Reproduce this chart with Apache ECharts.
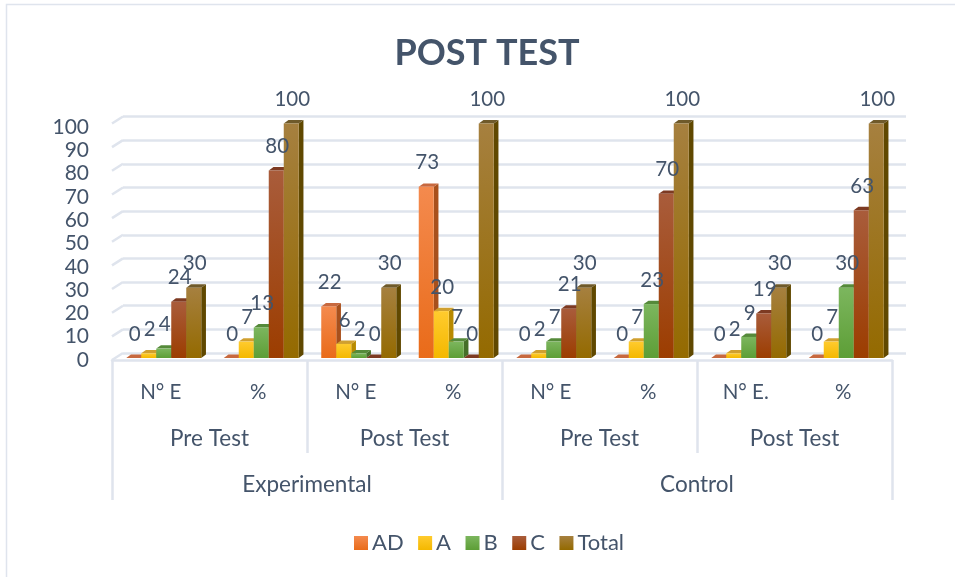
<!DOCTYPE html>
<html><head><meta charset="utf-8">
<script src="https://cdn.jsdelivr.net/npm/echarts@6/dist/echarts.min.js"></script>
<style>html,body{margin:0;padding:0;background:#fff}#c{width:955px;height:577px}</style>
</head><body><div id="c"></div>
<script>
const measures = ['N° E','%','N° E','%','N° E','%','N° E.','%'];
const tests = ['Pre Test','Post Test','Pre Test','Post Test'];
const groups = ['Experimental','Control'];
const valueTicks = [0,10,20,30,40,50,60,70,80,90,100];
const AD = [0,0,22,73,0,0,0,0];
const A = [2,7,6,20,2,7,2,7];
const B = [4,13,2,7,7,23,9,30];
const C = [24,80,0,0,21,70,19,63];
const Total = [30,100,30,100,30,100,30,100];
const seriesNames = ['AD','A','B','C','Total'];
const seriesValues = [AD,A,B,C,Total];
const palette = [
 {light:'#f48a4e',dark:'#e96b19',cap:'#c8693f',side:'#a8501c'},
 {light:'#ffcb2e',dark:'#f4b800',cap:'#d0a030',side:'#b88a00'},
 {light:'#7cb65e',dark:'#5d9e36',cap:'#558a3a',side:'#456f28'},
 {light:'#a95c3b',dark:'#9c3d00',cap:'#7d3a22',side:'#6f2c00'},
 {light:'#a6803f',dark:'#946a00',cap:'#6f5a2a',side:'#604800'}
];
const txt = '#44546a', line = '#dfe4ed', font = 'Lato';
const grad = p => new echarts.graphic.LinearGradient(0,0,0,1,[{offset:0,color:p.light},{offset:1,color:p.dark}]);
const barW = 15, shift = 3, dx = 4.7, dy = 3.4;

const bars = seriesNames.map((name,si)=>({
  name, type:'custom', xAxisIndex:0, yAxisIndex:0, z:5,
  coordinateSystem:'cartesian2d',
  itemStyle:{color:grad(palette[si])},
  data: seriesValues[si].map((v,i)=>[i,v]),
  encode:{x:0,y:1},
  renderItem(params,api){
    const p = palette[si];
    const top = api.coord([api.value(0),api.value(1)]);
    const base = api.coord([api.value(0),0]);
    const x0 = top[0]+shift+(si-2.5)*barW, x1 = x0+barW, yT = top[1], yB = base[1];
    const children = [];
    children.push({type:'polygon',z2:si,shape:{points:[[x1,yB],[x1+dx,yB-dy],[x1+dx,yT-dy],[x1,yT]]},style:{fill:p.side}});
    children.push({type:'polygon',z2:si,shape:{points:[[x0,yT],[x0+dx,yT-dy],[x1+dx,yT-dy],[x1,yT]]},style:{fill:p.cap}});
    if(yB-yT>0.5) children.push({type:'rect',z2:si,shape:{x:x0,y:yT,width:barW,height:yB-yT},style:{fill:grad(p)}});
    children.push({type:'text',z2:100,style:{x:x0+barW/2+1,y:yT-24,text:String(api.value(1)),fill:txt,font:'20.5px '+font,align:'center',verticalAlign:'middle'}});
    return {type:'group',children};
  }
}));

// left-wall diagonal tick connectors, tied to the value axes
const diag = {
  type:'custom', xAxisIndex:1, yAxisIndex:1, silent:true, z:1, legendHoverLink:false,
  data: valueTicks.map(v=>[0,v]),
  renderItem(params,api){
    const back = api.coord([0,api.value(1)]);
    const leftEdge = params.coordSys.x;
    return {type:'line',shape:{x1:leftEdge,y1:back[1],x2:leftEdge-11,y2:back[1]+7},style:{stroke:line,lineWidth:2.5}};
  }
};

const option = {
  animation:false,
  backgroundColor:'#fff',
  textStyle:{fontFamily:font},
  title:{text:'POST TEST',left:482,top:30,textAlign:'center',textStyle:{color:txt,fontFamily:font,fontWeight:'bold',fontSize:36}},
  legend:{data:seriesNames,left:349,top:527,itemWidth:14,itemHeight:14,itemGap:14.5,icon:'rect',
    textStyle:{color:txt,fontFamily:font,fontSize:22,padding:[0,0,0,-1]}},
  grid:[
    {left:112,right:63,top:123.5,height:234.5},
    {left:123,right:49,top:116.5,height:236.5},
    {left:112,right:63,top:127,height:233}
  ],
  xAxis:[
    {gridIndex:0,type:'category',data:measures,axisLine:{show:false},axisTick:{show:false},axisLabel:{show:false}},
    {gridIndex:1,type:'category',data:measures,axisLine:{show:false},axisTick:{show:false},axisLabel:{show:false}},
    {gridIndex:2,type:'category',data:measures,position:'bottom',axisLine:{lineStyle:{color:line,width:2.5}},axisTick:{show:false},
      axisLabel:{margin:22,color:txt,fontFamily:font,fontSize:20.5,interval:0}},
    {gridIndex:2,type:'category',data:tests,position:'bottom',axisLine:{show:false},
      axisTick:{show:true,length:93,alignWithLabel:false,interval:0,lineStyle:{color:line,width:2.5}},
      axisLabel:{margin:67,color:txt,fontFamily:font,fontSize:22.5,interval:0}},
    {gridIndex:2,type:'category',data:groups,position:'bottom',axisLine:{show:false},
      axisTick:{show:true,length:140,interval:0,lineStyle:{color:line,width:2.5}},
      axisLabel:{margin:113,color:txt,fontFamily:font,fontSize:22.5,interval:0}}
  ],
  yAxis:[
    {gridIndex:0,type:'value',min:0,max:100,interval:10,axisLine:{show:false},axisTick:{show:false},axisLabel:{show:false},splitLine:{show:false}},
    {gridIndex:1,type:'value',min:0,max:100,interval:10,axisLine:{show:false},axisTick:{show:false},axisLabel:{show:false},
      splitLine:{show:true,lineStyle:{color:line,width:2.5}}},
    {gridIndex:2,type:'value',min:0,max:100,interval:10,axisLine:{show:false},axisTick:{show:false},
      axisLabel:{margin:23,color:txt,fontFamily:font,fontSize:21,padding:[6,0,0,0]},splitLine:{show:false}}
  ],
  graphic:[{type:'polyline',silent:true,z:-1,shape:{points:[[6.5,577],[6.5,4.5],[955,4.5]]},style:{fill:'none',stroke:line,lineWidth:1.5}}],
  series:[diag,...bars]
};
const chart = echarts.init(document.getElementById('c'),null,{renderer:'canvas'});
chart.setOption(option);
</script></body></html>
